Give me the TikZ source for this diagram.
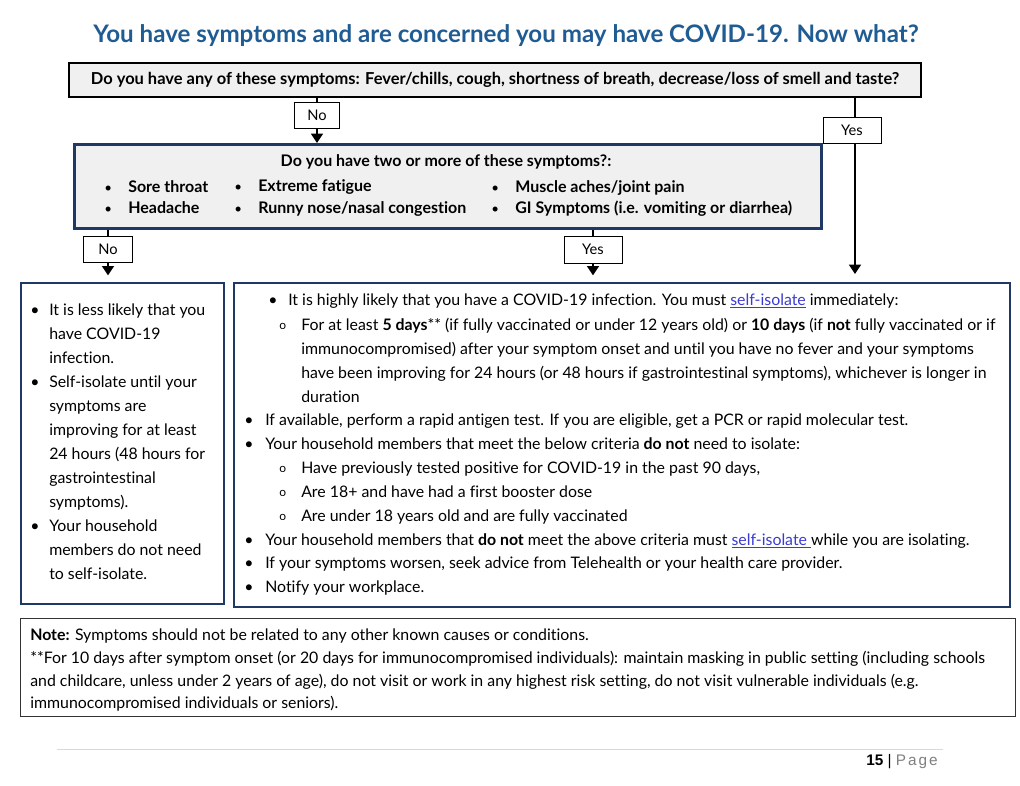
\documentclass[tikz,border=0pt]{standalone}
\usepackage{fontspec}
\setmainfont[Ligatures=NoCommon]{Lato}
\newfontfamily\footfont{Liberation Sans}
\usetikzlibrary{arrows.meta}
\definecolor{titleblue}{HTML}{1F5C93}
\definecolor{navy}{HTML}{1F3864}
\definecolor{boxgray}{HTML}{F0F0F0}
\definecolor{linkblue}{HTML}{3B3BD1}
\definecolor{footgray}{HTML}{7F7F7F}
\definecolor{rulegray}{HTML}{D9D9D9}
\newcommand{\lnk}[1]{\textcolor{linkblue}{\underline{#1}}}
\tikzset{
  qbox/.style={rectangle, inner sep=0pt, anchor=north west, fill=boxgray},
  rbox/.style={rectangle, inner sep=0pt, anchor=north west, draw=navy, line width=1.8pt, fill=white},
  lbl/.style={rectangle, draw=black, line width=0.6pt, fill=white, inner sep=0pt, font=\fontsize{11}{12}\selectfont},
  arr/.style={line width=1.1pt, -{Triangle[width=9pt,length=7pt]}},
  rtxt/.style={anchor=base west, inner sep=0pt, font=\fontsize{11.9}{13}\selectfont},
  ltxt/.style={anchor=base west, inner sep=0pt, font=\fontsize{11.9}{13}\selectfont},
  ntxt/.style={anchor=base west, inner sep=0pt, font=\fontsize{11.9}{13}\selectfont},
  btxt/.style={anchor=base west, inner sep=0pt, font=\bfseries\fontsize{12}{13}\selectfont},
  bul/.style={anchor=base west, inner sep=0pt, font=\fontsize{10}{12}\selectfont},
  circ/.style={anchor=base west, inner sep=0pt, font=\fontsize{9}{10}\selectfont},
}
\begin{document}
\begin{tikzpicture}[x=0.75pt,y=-0.75pt]
\useasboundingbox (0,0) rectangle (1020,785);
\fill[white] (0,0) rectangle (1020,785);

% title
\node[font=\bfseries\fontsize{18.1}{21}\selectfont, text=titleblue, inner sep=0pt] (title) at (506,36) {You have symptoms and are concerned you may have COVID-19. Now what?};

% question 1
\node[qbox, draw=black, line width=1.5pt, minimum width=852*0.75pt, minimum height=34*0.75pt, font=\bfseries\fontsize{12.35}{13}\selectfont] (q1) at (68,62) {Do you have any of these symptoms: Fever/chills, cough, shortness of breath, decrease/loss of smell and taste?};

% question 2
\node[qbox, draw=navy, line width=2pt, minimum width=747*0.75pt, minimum height=84*0.75pt] (q2) at (73,143) {};
\node[btxt, anchor=center] (q2t) at (446,162) {Do you have two or more of these symptoms?:};
\node[bul] (b1) at (104,192) {\textbullet};
\node[btxt] (s1) at (128,192) {Sore throat};
\node[bul] (b2) at (104,213) {\textbullet};
\node[btxt] (s2) at (128,213) {Headache};
\node[bul] (b3) at (234,191) {\textbullet};
\node[btxt] (s3) at (258,191) {Extreme fatigue};
\node[bul] (b4) at (234,213) {\textbullet};
\node[btxt] (s4) at (258,213) {Runny nose/nasal congestion};
\node[bul] (b5) at (491,192) {\textbullet};
\node[btxt] (s5) at (515,192) {Muscle aches/joint pain};
\node[bul] (b6) at (491,213) {\textbullet};
\node[btxt] (s6) at (515,213) {GI Symptoms (i.e. vomiting or diarrhea)};

% results
\node[rbox, minimum width=203*0.75pt, minimum height=321*0.75pt] (r1) at (20,282) {};
\node[rbox, minimum width=776*0.75pt, minimum height=324*0.75pt] (r2) at (233,282) {};

% connectors
\coordinate (xa) at (317,0);
\coordinate (xb) at (855,0);
\coordinate (xc) at (108,0);
\coordinate (xd) at (593,0);
\draw[arr] (q1.south -| xa) -- (q2.north -| xa);
\draw[arr, shorten >=6pt] (q1.south -| xb) -- (r2.north -| xb);
\draw[arr, shorten >=5pt] (q2.south -| xc) -- (r1.north -| xc);
\draw[arr, shorten >=5pt] (q2.south -| xd) -- (r2.north -| xd);
\node[lbl, minimum width=45*0.75pt, minimum height=26*0.75pt] (l1) at (317,115) {No};
\node[lbl, minimum width=58*0.75pt, minimum height=26*0.75pt] (l2) at (852,130) {Yes};
\node[lbl, minimum width=49*0.75pt, minimum height=26*0.75pt] (l3) at (108,249) {No};
\node[lbl, minimum width=58*0.75pt, minimum height=27*0.75pt] (l4) at (593,249.5) {Yes};

% left result text
\node[ltxt] (lb1) at (30,315) {\textbullet};
\node[ltxt] (lt1) at (49,315) {It is less likely that you};
\node[ltxt] (lt2) at (49,339) {have COVID-19};
\node[ltxt] (lt3) at (49,363) {infection.};
\node[ltxt] (lb2) at (30,387) {\textbullet};
\node[ltxt] (lt4) at (49,387) {Self-isolate until your};
\node[ltxt] (lt5) at (49,411) {symptoms are};
\node[ltxt] (lt6) at (49,435) {improving for at least};
\node[ltxt] (lt7) at (49,459) {24 hours (48 hours for};
\node[ltxt] (lt8) at (49,483) {gastrointestinal};
\node[ltxt] (lt9) at (49,507) {symptoms).};
\node[ltxt] (lb3) at (30,531) {\textbullet};
\node[ltxt] (lt10) at (49,531) {Your household};
\node[ltxt] (lt11) at (49,555) {members do not need};
\node[ltxt] (lt12) at (49,579) {to self-isolate.};

% right result text
\node[rtxt] (rb1) at (268,305) {\textbullet};
\node[rtxt] (rt1) at (288,305) {It is highly likely that you have a COVID-19 infection. You must \lnk{self-isolate} immediately:};
\node[circ] (rc1) at (279,329) {o};
\node[rtxt] (rt2) at (301,330) {For at least \textbf{5 days}** (if fully vaccinated or under 12 years old) or \textbf{10 days} (if \textbf{not} fully vaccinated or if};
\node[rtxt] (rt3) at (301,354) {immunocompromised) after your symptom onset and until you have no fever and your symptoms};
\node[rtxt] (rt4) at (301,378) {have been improving for 24 hours (or 48 hours if gastrointestinal symptoms), whichever is longer in};
\node[rtxt] (rt5) at (301,402) {duration};
\node[rtxt] (rb2) at (244,425) {\textbullet};
\node[rtxt] (rt6) at (265,425) {If available, perform a rapid antigen test. If you are eligible, get a PCR or rapid molecular test.};
\node[rtxt] (rb3) at (244,449) {\textbullet};
\node[rtxt] (rt7) at (265,449) {Your household members that meet the below criteria \textbf{do not} need to isolate:};
\node[circ] (rc2) at (279,472) {o};
\node[rtxt] (rt8) at (301,473) {Have previously tested positive for COVID-19 in the past 90 days,};
\node[circ] (rc3) at (279,496) {o};
\node[rtxt] (rt9) at (301,497) {Are 18+ and have had a first booster dose};
\node[circ] (rc4) at (279,520) {o};
\node[rtxt] (rt10) at (301,521) {Are under 18 years old and are fully vaccinated};
\node[rtxt] (rb4) at (244,545) {\textbullet};
\node[rtxt] (rt11) at (265,545) {Your household members that \textbf{do not} meet the above criteria must \lnk{self-isolate }while you are isolating.};
\node[rtxt] (rb5) at (244,568) {\textbullet};
\node[rtxt] (rt12) at (265,568) {If your symptoms worsen, seek advice from Telehealth or your health care provider.};
\node[rtxt] (rb6) at (244,592) {\textbullet};
\node[rtxt] (rt13) at (265,592) {Notify your workplace.};

% note
\node[rectangle, inner sep=0pt, anchor=north west, draw=black!80, line width=0.8pt, minimum width=995*0.75pt, minimum height=98*0.75pt] (note) at (20,618) {};
\node[ntxt] (n1) at (30,640) {\textbf{Note:} Symptoms should not be related to any other known causes or conditions.};
\node[ntxt] (n2) at (30,663) {**For 10 days after symptom onset (or 20 days for immunocompromised individuals): maintain masking in public setting (including schools};
\node[ntxt] (n3) at (30,686) {and childcare, unless under 2 years of age), do not visit or work in any highest risk setting, do not visit vulnerable individuals (e.g.};
\node[ntxt] (n4) at (30,708) {immunocompromised individuals or seniors).};

% footer
\draw[rulegray, line width=0.6pt] (57,749) -- (943,749);
\node[anchor=base east, inner sep=0pt, font=\footfont\fontsize{11.5}{13}\selectfont] (pg) at (938,765) {\textbf{15} | \textcolor{footgray}{P\kern1.5pt a\kern1.5pt g\kern1.5pt e}};
\end{tikzpicture}
\end{document}
